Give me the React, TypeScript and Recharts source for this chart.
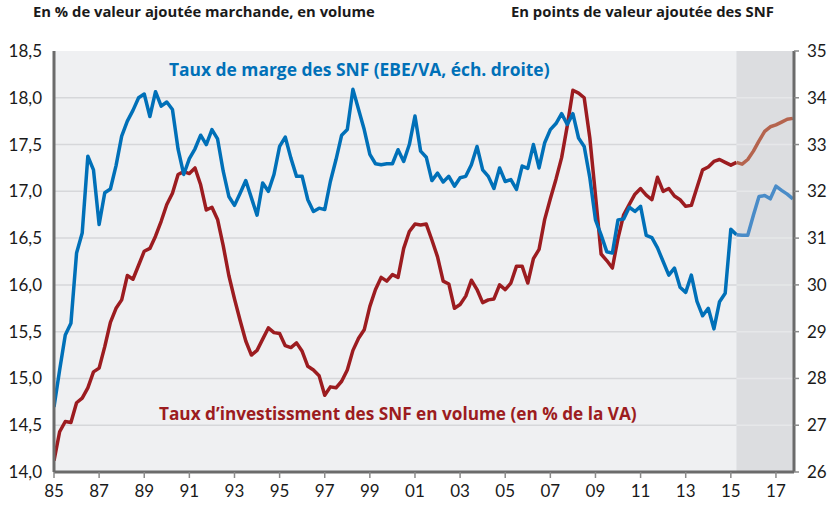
import {
  CartesianGrid,
  Line,
  LineChart,
  ReferenceArea,
  ReferenceLine,
  XAxis,
  YAxis,
} from "recharts";

// trimestriel, 1985T1 -> 2017T4
const START_YEAR = 1985;
// index du premier trimestre prévu (2015T2)
const FORECAST_START = 121;

// taux d'investissement en volume, % de la VA (éch. gauche)
const investissement = [
  14.12, 14.43, 14.54, 14.53, 14.74, 14.79, 14.9, 15.07, 15.11, 15.34,
  15.6, 15.75, 15.84, 16.1, 16.06, 16.21, 16.36, 16.39, 16.52, 16.68,
  16.86, 16.98, 17.18, 17.21, 17.19, 17.25, 17.07, 16.8, 16.83, 16.7,
  16.42, 16.1, 15.85, 15.62, 15.4, 15.25, 15.3, 15.42, 15.54, 15.49,
  15.48, 15.35, 15.33, 15.38, 15.29, 15.13, 15.09, 15.03, 14.82, 14.91,
  14.9, 14.97, 15.09, 15.3, 15.43, 15.52, 15.77, 15.95, 16.08, 16.04,
  16.11, 16.08, 16.39, 16.57, 16.65, 16.64, 16.65, 16.48, 16.3, 16.04,
  16.01, 15.75, 15.79, 15.88, 16.05, 15.95, 15.81, 15.84, 15.85, 16.0,
  15.95, 16.02, 16.2, 16.2, 16.02, 16.28, 16.38, 16.7, 16.92, 17.13,
  17.36, 17.7, 18.08, 18.05, 18.0, 17.57, 16.96, 16.33, 16.26, 16.18,
  16.5, 16.75, 16.86, 16.97, 17.03, 16.96, 16.91, 17.15, 17.0, 17.03,
  16.95, 16.91, 16.84, 16.85, 17.04, 17.23, 17.26, 17.32, 17.34, 17.31,
  17.28, 17.31, 17.29, 17.34, 17.43, 17.54, 17.64, 17.69, 17.71, 17.74,
  17.77, 17.78,
];

// taux de marge EBE/VA (éch. droite)
const marge = [
  27.39, 28.18, 28.93, 29.18, 30.68, 31.11, 32.75, 32.46, 31.29, 31.97,
  32.05, 32.55, 33.18, 33.5, 33.73, 34.0, 34.08, 33.6, 34.13, 33.82,
  33.91, 33.75, 32.9, 32.36, 32.7, 32.91, 33.2, 33.0, 33.32, 33.12,
  32.43, 31.89, 31.7, 31.96, 32.23, 31.86, 31.49, 32.18, 32.0, 32.36,
  32.96, 33.16, 32.71, 32.32, 32.32, 31.82, 31.57, 31.64, 31.61, 32.21,
  32.68, 33.2, 33.32, 34.18, 33.75, 33.32, 32.79, 32.59, 32.57, 32.59,
  32.59, 32.89, 32.64, 33.0, 33.61, 32.86, 32.73, 32.23, 32.39, 32.2,
  32.32, 32.11, 32.29, 32.32, 32.57, 32.96, 32.46, 32.32, 32.06, 32.5,
  32.21, 32.25, 32.04, 32.54, 32.49, 33.0, 32.5, 33.04, 33.32, 33.45,
  33.66, 33.43, 33.66, 33.14, 32.96, 32.29, 31.39, 31.07, 30.71, 30.68,
  31.39, 31.41, 31.66, 31.57, 31.68, 31.06, 31.01, 30.79, 30.5, 30.21,
  30.36, 29.95, 29.84, 30.21, 29.65, 29.34, 29.5, 29.06, 29.64, 29.82,
  31.19, 31.07, 31.06, 31.06, 31.49, 31.89, 31.91, 31.84, 32.11, 32.02,
  31.94, 31.84,
];

const xTicks = [
  1985, 1987, 1989, 1991, 1993, 1995, 1997, 1999, 2001, 2003, 2005, 2007,
  2009, 2011, 2013, 2015, 2017,
];
const leftTicks = [14, 14.5, 15, 15.5, 16, 16.5, 17, 17.5, 18, 18.5];
const rightTicks = [26, 27, 28, 29, 30, 31, 32, 33, 34, 35];
const gridValues = [14.5, 15, 15.5, 16, 16.5, 17, 17.5, 18];

const X_END = 2017.8;
const FORECAST_X = START_YEAR + FORECAST_START / 4;

const data = investissement.map((v, i) => ({
  t: START_YEAR + i / 4,
  inv: i <= FORECAST_START ? v : null,
  invP: i >= FORECAST_START ? v : null,
  marge: i <= FORECAST_START ? marge[i] : null,
  margeP: i >= FORECAST_START ? marge[i] : null,
}));

const FONT = "Lato, 'Open Sans', sans-serif";
const LABEL_FONT = "'Open Sans', Lato, sans-serif";
const tickStyle = { fontSize: 17, fill: "#1a1a1a", fontFamily: FONT };

export default function App() {
  return (
    <div style={{ position: "relative", width: 830, height: 506, fontFamily: FONT }}>
      <style>{`body{margin:0}`}</style>
      <div style={{ position: "absolute", left: 33, top: 4, fontSize: 14.8, fontWeight: 700, color: "#1a1a1a", lineHeight: 1, fontFamily: LABEL_FONT, whiteSpace: "nowrap" }}>
        En % de valeur ajoutée marchande, en volume
      </div>
      <div style={{ position: "absolute", left: 511, top: 4, fontSize: 14.8, fontWeight: 700, color: "#1a1a1a", lineHeight: 1, fontFamily: LABEL_FONT, whiteSpace: "nowrap" }}>
        En points de valeur ajoutée des SNF
      </div>

      <LineChart width={830} height={506} data={data} margin={{ top: 51, right: 0, bottom: 0, left: 0 }}>
        <CartesianGrid
          yAxisId="l"
          vertical={false}
          horizontalValues={gridValues}
          fill="#eff0f2"
          fillOpacity={1}
          stroke="#d6d7da"
          strokeWidth={1.5}
        />
        <ReferenceArea yAxisId="l" x1={FORECAST_X} x2={X_END} y1={14} y2={18.5} fill="#dcdde0" fillOpacity={1} stroke="none" />
        {gridValues.map((v) => (
          <ReferenceLine
            key={v}
            yAxisId="l"
            segment={[{ x: FORECAST_X, y: v }, { x: X_END, y: v }]}
            stroke="#e6e7e9"
            strokeWidth={1.5}
          />
        ))}
        <XAxis
          dataKey="t"
          type="number"
          domain={[START_YEAR, X_END]}
          ticks={xTicks}
          tickFormatter={(v: number) => String(v).slice(2)}
          tick={tickStyle}
          height={34}
          tickSize={6}
          tickMargin={7}
          axisLine={{ stroke: "#6b6b6b", strokeWidth: 3 }}
          tickLine={{ stroke: "#8a8a8a", strokeWidth: 1.5 }}
          allowDataOverflow
        />
        <YAxis
          yAxisId="l"
          domain={[14, 18.5]}
          ticks={leftTicks}
          tickFormatter={(v: number) => v.toFixed(1).replace(".", ",")}
          tick={tickStyle}
          width={54}
          tickSize={0}
          tickMargin={12}
          axisLine={{ stroke: "#6b6b6b", strokeWidth: 3 }}
          tickLine={false}
          allowDataOverflow
        />
        <YAxis
          yAxisId="r"
          orientation="right"
          domain={[26, 35]}
          ticks={rightTicks}
          tick={{ ...tickStyle, textAnchor: "start" }}
          width={36}
          tickSize={5}
          tickMargin={8}
          axisLine={{ stroke: "#6b6b6b", strokeWidth: 3 }}
          tickLine={{ stroke: "#8a8a8a", strokeWidth: 1.5 }}
          allowDataOverflow
        />
        <Line yAxisId="l" dataKey="inv" stroke="#9c1c20" strokeWidth={3.5} dot={false} isAnimationActive={false} strokeLinejoin="round" />
        <Line yAxisId="l" dataKey="invP" stroke="#b5644e" strokeWidth={3.5} dot={false} isAnimationActive={false} strokeLinejoin="round" />
        <Line yAxisId="r" dataKey="marge" stroke="#0070b8" strokeWidth={3.5} dot={false} isAnimationActive={false} strokeLinejoin="round" />
        <Line yAxisId="r" dataKey="margeP" stroke="#4a8cc8" strokeWidth={3.5} dot={false} isAnimationActive={false} strokeLinejoin="round" />
      </LineChart>

      <div style={{ position: "absolute", left: 169, top: 61, fontSize: 17.4, fontWeight: 700, color: "#0070b8", lineHeight: 1, fontFamily: LABEL_FONT, whiteSpace: "nowrap" }}>
        Taux de marge des SNF (EBE/VA, éch. droite)
      </div>
      <div style={{ position: "absolute", left: 159, top: 405, fontSize: 17.2, fontWeight: 700, color: "#9c1c20", lineHeight: 1, fontFamily: LABEL_FONT, whiteSpace: "nowrap" }}>
        Taux d’investissment des SNF en volume (en % de la VA)
      </div>
    </div>
  );
}
